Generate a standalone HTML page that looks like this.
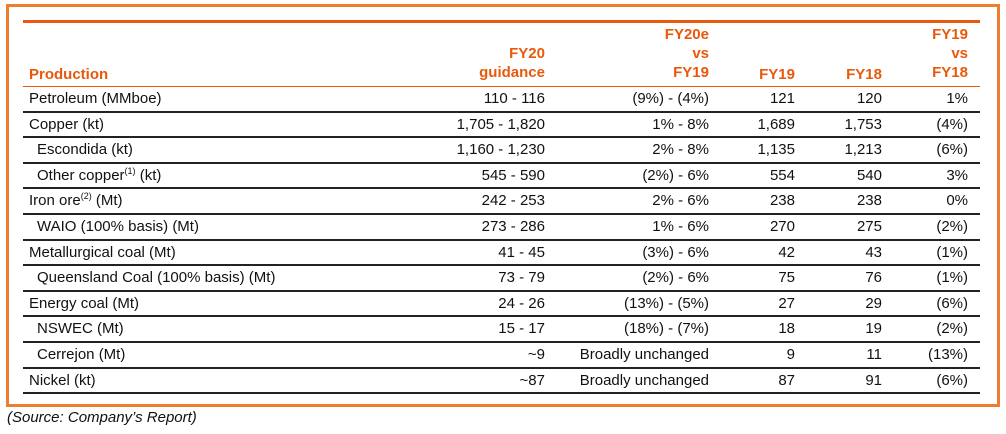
<!DOCTYPE html>
<html><head><meta charset="utf-8"><style>
body{margin:0;width:1006px;height:434px;background:#fff;position:relative;overflow:hidden;font-family:"Liberation Sans",Arial,sans-serif;}
.frame{position:absolute;left:6px;top:4px;width:988px;height:397px;border:3px solid #ED7D31;}
.topline{position:absolute;left:23px;top:20px;width:957px;height:3px;background:#E8590C;}
.hline{position:absolute;left:23px;width:957px;height:1px;background:#E8590C;top:86px;}
.rline{position:absolute;left:23px;width:957px;height:2px;background:#222;}
.h{position:absolute;color:#E8590C;font-weight:bold;font-size:15px;line-height:19px;text-align:right;}
.c{position:absolute;font-size:15px;line-height:18px;color:#111;white-space:nowrap;}
.r{text-align:right;}
sup{font-size:9px;vertical-align:6px;line-height:0}
.src{position:absolute;left:7px;top:409px;font-style:italic;font-size:15px;color:#111;font-family:"Liberation Sans",sans-serif;}
</style></head><body>
<div class="frame"></div>
<div class="topline"></div>
<div class="h" style="left:29px;top:65px;text-align:left">Production</div>
<div class="h" style="right:461px;top:44px">FY20<br>guidance</div>
<div class="h" style="right:297px;top:25px">FY20e<br>vs<br>FY19</div>
<div class="h" style="right:211px;top:65px">FY19</div>
<div class="h" style="right:124px;top:65px">FY18</div>
<div class="h" style="right:38px;top:25px">FY19<br>vs<br>FY18</div>
<div class="hline"></div>
<div id="rows"></div>
<div class="src">(Source: Company’s Report)</div>
<script>
const labels=["Petroleum (MMboe)","Copper (kt)","Escondida (kt)","Other copper<sup>(1)</sup> (kt)","Iron ore<sup>(2)</sup> (Mt)","WAIO (100% basis) (Mt)","Metallurgical coal (Mt)","Queensland Coal (100% basis) (Mt)","Energy coal (Mt)","NSWEC (Mt)","Cerrejon (Mt)","Nickel (kt)"];
const indent=[0,0,1,1,0,1,0,1,0,1,1,0];
const guidance=["110 - 116","1,705 - 1,820","1,160 - 1,230","545 - 590","242 - 253","273 - 286","41 - 45","73 - 79","24 - 26","15 - 17","~9","~87"];
const change=["(9%) - (4%)","1% - 8%","2% - 8%","(2%) - 6%","2% - 6%","1% - 6%","(3%) - 6%","(2%) - 6%","(13%) - (5%)","(18%) - (7%)","Broadly unchanged","Broadly unchanged"];
const fy19=["121","1,689","1,135","554","238","270","42","75","27","18","9","87"];
const fy18=["120","1,753","1,213","540","238","275","43","76","29","19","11","91"];
const yoy=["1%","(4%)","(6%)","3%","0%","(2%)","(1%)","(1%)","(6%)","(2%)","(13%)","(6%)"];
const rows=document.getElementById('rows');
const rowH=25.6, top0=86;
function cell(html,style,name){const d=document.createElement('div');d.className='c';d.innerHTML=html;d.setAttribute('style',style);


rows.appendChild(d);}
labels.forEach((l,i)=>{
  const y=top0+i*rowH+4;
  cell(l,`left:${indent[i]?37:29}px;top:${y}px`,'row-label');
  cell(guidance[i],`right:461px;top:${y}px;text-align:right`,'guidance-value');
  cell(change[i],`right:297px;top:${y}px;text-align:right`,'change-value');
  cell(fy19[i],`right:211px;top:${y}px;text-align:right`,'fy19-value');
  cell(fy18[i],`right:124px;top:${y}px;text-align:right`,'fy18-value');
  cell(yoy[i],`right:38px;top:${y}px;text-align:right`,'yoy-value');
  const ln=document.createElement('div');ln.className='rline';ln.style.top=(top0+(i+1)*rowH-1)+'px';
  
  
  rows.appendChild(ln);
});
</script>
</body></html>
